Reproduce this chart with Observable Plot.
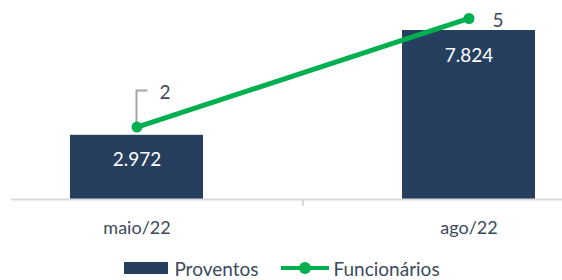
<!DOCTYPE html>
<html>
<head>
<meta charset="utf-8">
<script src="https://cdn.jsdelivr.net/npm/d3@7"></script>
<script src="https://cdn.jsdelivr.net/npm/@observablehq/plot@0.6"></script>
<style>
  html, body { margin: 0; padding: 0; background: #fff; }
  #chart { width: 562px; height: 280px; overflow: hidden; font-family: Lato, "Open Sans", sans-serif; }
  #chart svg { display: block; }
  .legend { display: flex; justify-content: center; align-items: center; height: 24px; font-size: 19px; color: #3b4a5c; margin-left: 2px; }
  .legend .item { display: flex; align-items: center; }
  .legend .item + .item { margin-left: 23px; }
  .legend .sw-bar { width: 44px; height: 12px; background: #263f5f; margin-right: 6px; }
  .legend .sw-line { position: relative; width: 48px; height: 12px; margin-right: 4px; }
  .legend .sw-line::before { content: ""; position: absolute; left: 0; right: 0; top: 4px; height: 4px; background: #00b050; }
  .legend .sw-line::after { content: ""; position: absolute; left: 18px; top: 0; width: 12px; height: 12px; border-radius: 50%; background: #00b050; }
</style>
</head>
<body>
<div id="chart"></div>
<script>
// Data
const categories = ["maio/22", "ago/22"];
const proventos = [2972, 7824];
const proventosLabels = ["2.972", "7.824"];
const funcionarios = [2, 5];
const funcionariosLabels = ["2", "5"];
const seriesNames = ["Proventos", "Funcionários"];
// Axis maxima (primary and secondary axes share the same plot height)
const primaryMax = 9000;
const secondaryMax = 5.37;

const ratio = primaryMax / secondaryMax;
const data = categories.map((c, i) => ({
  cat: c,
  prov: proventos[i],
  provLabel: proventosLabels[i],
  funcScaled: funcionarios[i] * ratio,
  funcLabel: funcionariosLabels[i]
}));

const chart = Plot.plot({
  width: 562,
  height: 256,
  marginTop: 0, marginBottom: 0, marginLeft: 0, marginRight: 0,
  style: { fontFamily: "Lato, 'Open Sans', sans-serif", background: "transparent" },
  x: { domain: categories, range: [-129.5, 735], paddingInner: 0.6, paddingOuter: 0.6, axis: null },
  y: { domain: [0, primaryMax], range: [199, 4.6], axis: null },
  marks: [
    Plot.barY(data, { x: "cat", y: "prov", fill: "#263f5f" }),
    Plot.ruleY([0], { stroke: "#d9d9d9", strokeWidth: 2, insetLeft: 11 }),
    // tick mark between categories
    Plot.ruleX([categories[0]], { dx: 166, y1: 0, y2: -320, stroke: "#d9d9d9", strokeWidth: 2 }),
    // category labels
    Plot.text(data, { x: "cat", y: 0, text: "cat", dy: 29, fontSize: 18, fill: "#3b4a5c" }),
    // bar value labels
    Plot.text(data, { x: "cat", y: "prov", text: "provLabel", dy: 25, fontSize: 19, fill: "#ffffff" }),
    // line series
    Plot.line(data, { x: "cat", y: "funcScaled", stroke: "#00b050", strokeWidth: 5 }),
    Plot.dot(data, { x: "cat", y: "funcScaled", r: 5.5, fill: "#00b050" }),
    Plot.text([data[0]], { x: "cat", y: "funcScaled", text: "funcLabel", dx: 28, dy: -34, fontSize: 19, fill: "#3b4a5c" }),
    Plot.text([data[1]], { x: "cat", y: "funcScaled", text: "funcLabel", dx: 29, dy: 2, fontSize: 19, fill: "#3b4a5c" })
  ]
});
document.getElementById("chart").appendChild(chart);

// Leader line for the first line label, positioned with the chart's own scales
const xs = chart.scale("x"), ys = chart.scale("y");
const cx = xs.apply(data[0].cat) + xs.bandwidth / 2;
const cy = ys.apply(data[0].funcScaled);
d3.select(chart).append("path")
  .attr("d", `M${cx},${cy - 3}V${cy - 36}H${cx + 11}`)
  .attr("fill", "none")
  .attr("stroke", "#a6a6a6")
  .attr("stroke-width", 2);
// bring line and dots above the leader
d3.select(chart).selectAll("g[aria-label='line'], g[aria-label='dot']").raise();

// Legend (HTML, below the SVG)
const legend = d3.select("#chart").append("div").attr("class", "legend");
const it1 = legend.append("div").attr("class", "item");
it1.append("div").attr("class", "sw-bar");
it1.append("span").text(seriesNames[0]);
const it2 = legend.append("div").attr("class", "item");
it2.append("div").attr("class", "sw-line");
it2.append("span").text(seriesNames[1]);
</script>
</body>
</html>
